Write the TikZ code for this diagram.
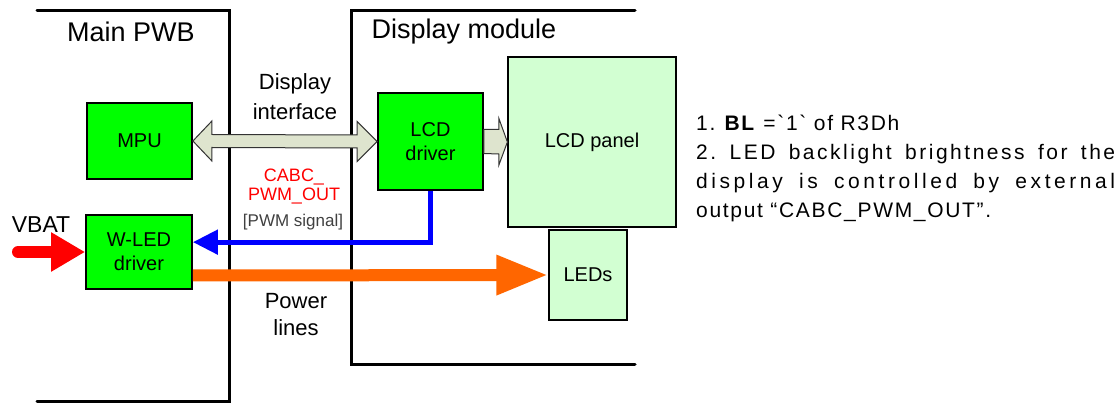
\documentclass[tikz,border=0pt]{standalone}
\usepackage{fontspec}
\setmainfont{Liberation Sans}
\newfontfamily\notefont[LetterSpace=8]{Liberation Sans}
\newfontfamily\notemidfont[LetterSpace=12]{Liberation Sans}
\newfontfamily\notewidefont[LetterSpace=17]{Liberation Sans}
\usepackage{tikz}
\usetikzlibrary{
arrows.meta,
positioning,
calc
}
\definecolor{chipgreen}{RGB}{0,255,0}
\definecolor{panelgreen}{HTML}{D2FFD2}
\definecolor{busfill}{HTML}{DEE4CE}
\definecolor{pwmred}{RGB}{255,0,0}
\definecolor{pwmblue}{RGB}{0,0,255}
\definecolor{powerorange}{HTML}{FF6600}
\newcommand{\sizept}[2]{\fontsize{#1}{#2}\selectfont}
\frenchspacing

\begin{document}
\begin{tikzpicture}[x=1pt, y=-1pt,
  frame/.style={line width=3pt, line cap=round},
  chip/.style={draw, line width=1.8pt, fill=chipgreen, inner sep=0pt, align=center, font=\sizept{20}{24}},
  panel/.style={draw, line width=1.2pt, fill=panelgreen, inner sep=0pt, align=center, font=\sizept{20}{24}},
  tag/.style={align=center, inner sep=0pt},
  bus/.style={draw=black!80, line width=1pt, fill=busfill, line join=miter},
  vbat/.style={pwmred, line width=12pt, line cap=round, -{Triangle[length=34pt, width=37pt]}},
  power/.style={powerorange, line width=12pt, -{Triangle[length=52pt, width=37pt]}},
  pwm/.style={pwmblue, line width=5pt, -{Triangle[length=25pt, width=24pt]}}
]
  \useasboundingbox (0,0) rectangle (1117,403);

  % Board outlines
  \draw[frame] (37,11) -- (229,11) -- (229,401) -- (37,401);
  \draw[frame] (635,11) -- (351,11) -- (351,365) -- (635,365);
  \node[tag, font=\sizept{27}{30}] (mainpwb) at (131,32) {Main PWB};
  \node[tag, font=\sizept{27}{30}] (dispmod) at (464,32) {Display module};

  % Blocks
  \node[chip, minimum width=105pt, minimum height=76pt] (mpu) at (139.5,141) {MPU};
  \node[chip, minimum width=106pt, minimum height=74pt] (wled) at (139,252) {W-LED\\driver};
  \node[chip, minimum width=105pt, minimum height=97pt] (lcddrv) at (430.5,141.5) {LCD\\driver};
  \node[panel, minimum width=168pt, minimum height=170pt] (panel) at (592,142) {LCD panel};
  \node[panel, minimum width=78pt, minimum height=90pt] (leds) at (588,275) {LEDs};

  % Display interface bus
  \draw[bus] (mpu.east) -- ++(19,-20) -- ++(0,13.5) -- ($(lcddrv.west)+(-20,-6.5)$)
    -- ++(0,-13.5) -- (lcddrv.west) -- ++(-20,20) -- ++(0,-13.5)
    -- ($(mpu.east)+(19,6.5)$) -- ++(0,13.5) -- cycle;
  \draw[bus] ($(lcddrv.east)+(0,-12)$) -- ++(15,0) -- ++(0,-11) -- (panel.west)
    -- ($(lcddrv.east)+(15,23.5)$) -- ++(0,-11) -- ($(lcddrv.east)+(0,12)$) -- cycle;
  \node[tag, font=\sizept{22}{30}] (ifacelbl) at (295,97) {Display\\interface};

  % PWM control and power
  \coordinate (wledpwm) at ($(wled.north east)!0.37!(wled.south east)$);
  \coordinate (wledout) at ($(wled.north east)!0.81!(wled.south east)$);
  \coordinate (vbatin) at (18,252);
  \draw[pwm] (lcddrv.south) |- (wledpwm);
  \draw[power] (wledout) -- (leds.west);
  \draw[vbat] (vbatin) -- (wled.west);
  \node[tag, font=\sizept{23}{26}] (vbatlbl) at (41,225) {VBAT};
  \node[tag, text=pwmred, font=\sizept{18}{19}] (cabclbl) at (294,187) {CABC\_\\PWM\_OUT};
  \node[tag, text=black!75, font=\sizept{17}{19}] (pwmlbl) at (293,222) {[PWM signal]};
  \node[tag, font=\sizept{22}{27}] (powerlbl) at (296,315) {Power\\lines};

  % Note
  \node[anchor=north west, inner sep=0pt, align=left, font=\sizept{21}{29}] (note) at (696,115)
    {\notefont 1. \textbf{BL} =`1` of R3Dh\\
     \makebox[419pt][s]{\notemidfont 2. LED backlight brightness for the}\\
     \makebox[419pt][s]{\notewidefont display is controlled by external}\\
     \notefont output “CABC\_PWM\_OUT”.};

\end{tikzpicture}
\end{document}
